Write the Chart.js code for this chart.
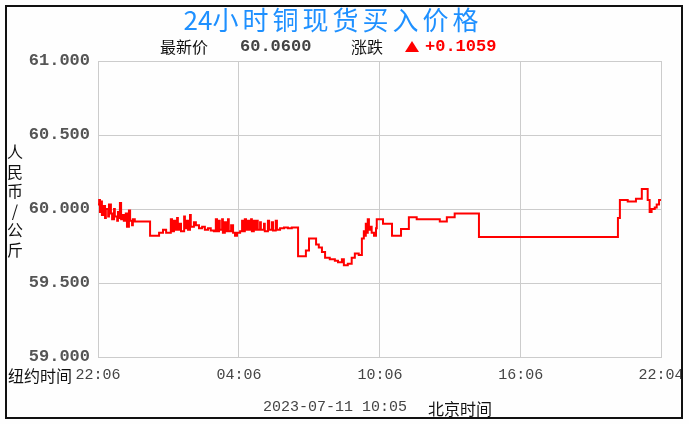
<!DOCTYPE html>
<html>
<head>
<meta charset="utf-8">
<script src="https://cdn.jsdelivr.net/npm/chart.js@4/dist/chart.umd.min.js"></script>
<style>
  html, body { margin: 0; padding: 0; background: #fefefe; }
  #wrap { position: relative; width: 689px; height: 424px; overflow: hidden; }
  canvas { position: absolute; left: 0; top: 0; }
  .t { position: absolute; white-space: nowrap; }
  #frame { position: absolute; left: 5px; top: 5px; width: 674px; height: 410px; border: 2px solid #111; }
  #title { left: 0; width: 666px; text-align: center; top: 0px; font: 26px "Noto Sans CJK SC"; color: #1e90ff; line-height: 38px; }
  #title .sp { letter-spacing: 4px; }
  .cjk { font-family: "Noto Sans CJK SC"; font-size: 16px; color: #111; line-height: 20px; }
  .mono { font-family: "Liberation Mono"; font-size: 15px; color: #444; line-height: 20px; }
  .monob { font-family: "Liberation Mono"; font-weight: bold; font-size: 17px; line-height: 20px; }
  #ytitle { left: 6px; top: 142px; width: 18px; font: 16px "Noto Sans CJK SC"; color: #111; line-height: 19.5px; text-align: center; }
  #tri { position: absolute; left: 405px; top: 41px; width: 0; height: 0; border-left: 7px solid transparent; border-right: 7px solid transparent; border-bottom: 11px solid #ff0000; }
</style>
</head>
<body>
<div id="wrap">
  <canvas id="c" width="689" height="424"></canvas>
  <div id="frame"></div>
  <div class="t" id="title">24<span class="sp">小时铜现货买入价格</span></div>
  <div class="t cjk" style="left:160px; top:36px;">最新价</div>
  <div class="t monob" style="left:240px; top:37px; color:#444;" id="latest"></div>
  <div class="t cjk" style="left:351px; top:36px;">涨跌</div>
  <div id="tri"></div>
  <div class="t monob" style="left:425px; top:37px; color:#ff0000;" id="change"></div>
  <div class="t" id="ytitle"></div>
  <div class="t cjk" style="left:8px; top:365px;">纽约时间</div>
  <div class="t mono" style="left:263px; top:398px;" id="stamp"></div>
  <div class="t cjk" style="left:428px; top:398px;">北京时间</div>
</div>
<script>
// ---- data (minutes after 22:06 New York time, price CNY/kg) ----
const minutes = [
  0,3,5,8,10,13,18,20,26,28,33,36,41,43,49,51,54,56,59,64,66,71,74,79,82,87,89,94,
  133,156,166,174,186,189,194,197,202,204,209,212,220,222,227,230,235,237,245,250,
  258,266,273,281,288,296,301,304,309,311,317,319,324,327,332,334,340,345,350,355,
  363,368,370,375,378,383,386,391,393,398,401,406,408,414,416,424,426,434,437,444,
  447,454,457,465,475,485,495,
  511,531,539,549,557,564,572,580,592,605,613,623,628,638,648,656,666,674,679,682,
  684,687,689,692,697,699,705,710,712,728,751,774,794,814,873,891,911,973,
  1328,1333,1353,1374,1389,1404,1409,1414,1422,1427,1433,1438
];
const prices = [
  60.03,60.06,59.98,60.05,59.96,60.02,59.94,60.00,59.95,60.03,59.97,59.93,60.00,59.95,59.92,59.98,59.94,60.04,59.93,59.96,59.92,59.97,59.88,59.99,59.92,59.89,59.93,59.915,
  59.82,59.84,59.86,59.84,59.93,59.85,59.92,59.86,59.94,59.86,59.90,59.85,59.95,59.87,59.92,59.86,59.96,59.88,59.91,59.89,
  59.87,59.88,59.86,59.87,59.855,59.85,59.93,59.85,59.92,59.86,59.93,59.84,59.91,59.85,59.93,59.85,59.89,59.84,59.82,59.84,
  59.85,59.92,59.85,59.93,59.86,59.92,59.86,59.93,59.85,59.92,59.86,59.92,59.86,59.91,59.86,59.90,59.85,59.92,59.86,59.91,
  59.855,59.92,59.86,59.87,59.875,59.87,59.875,
  59.68,59.72,59.80,59.80,59.76,59.74,59.71,59.67,59.66,59.65,59.64,59.66,59.62,59.63,59.67,59.70,59.69,59.80,59.85,59.82,
  59.90,59.84,59.93,59.86,59.88,59.84,59.82,59.87,59.93,59.90,59.82,59.865,59.945,59.93,59.915,59.945,59.97,59.81,
  59.94,60.06,60.05,60.07,60.135,60.06,59.98,60.00,60.01,60.03,60.06,60.06
];
const xTickValues = [0, 360, 720, 1080, 1438];
const xTickLabels = ["22:06", "04:06", "10:06", "16:06", "22:04"];
const yTickValues = [59.0, 59.5, 60.0, 60.5, 61.0];
const latestPrice = "60.0600";
const priceChange = "+0.1059";
const stampText = "2023-07-11 10:05";
const yTitleChars = ["人", "民", "币", "/", "公", "斤"];

document.getElementById('latest').textContent = latestPrice;
document.getElementById('change').textContent = priceChange;
document.getElementById('stamp').textContent = stampText;
document.getElementById('ytitle').innerHTML = yTitleChars.join('<br>');

const points = minutes.map((m, i) => ({ x: m, y: prices[i] }));

new Chart(document.getElementById('c'), {
  type: 'line',
  data: {
    datasets: [{
      data: points,
      borderColor: '#ff0000',
      borderWidth: 2,
      pointRadius: 0,
      stepped: 'before',
      fill: false
    }]
  },
  options: {
    responsive: false,
    devicePixelRatio: 1,
    animation: false,
    events: [],
    layout: { padding: { top: 61, right: 28, left: 0, bottom: 0 } },
    plugins: { legend: { display: false }, tooltip: { enabled: false } },
    scales: {
      x: {
        type: 'linear',
        min: 0,
        max: 1438,
        afterBuildTicks: (s) => { s.ticks = xTickValues.map(v => ({ value: v })); },
        afterFit: (s) => { s.height = 67; s.paddingLeft = 0; s.paddingRight = 0; },
        grid: { color: '#cccccc', drawTicks: false, lineWidth: 1 },
        border: { color: '#cccccc' },
        ticks: {
          autoSkip: false,
          maxRotation: 0,
          padding: 9,
          color: '#444',
          font: { family: 'Liberation Mono', size: 15 },
          callback: (v) => { const i = xTickValues.indexOf(v); return i >= 0 ? xTickLabels[i] : ''; }
        }
      },
      y: {
        min: 59,
        max: 61,
        afterBuildTicks: (s) => { s.ticks = yTickValues.map(v => ({ value: v })); },
        afterFit: (s) => { s.width = 98; s.paddingTop = 0; s.paddingBottom = 0; },
        grid: { color: '#cccccc', drawTicks: false, lineWidth: 1 },
        border: { color: '#cccccc' },
        ticks: {
          padding: 8,
          color: '#555',
          font: { family: 'Liberation Mono', size: 17, weight: 'bold' },
          callback: (v) => Number(v).toFixed(3)
        }
      }
    }
  }
});
</script>
</body>
</html>
